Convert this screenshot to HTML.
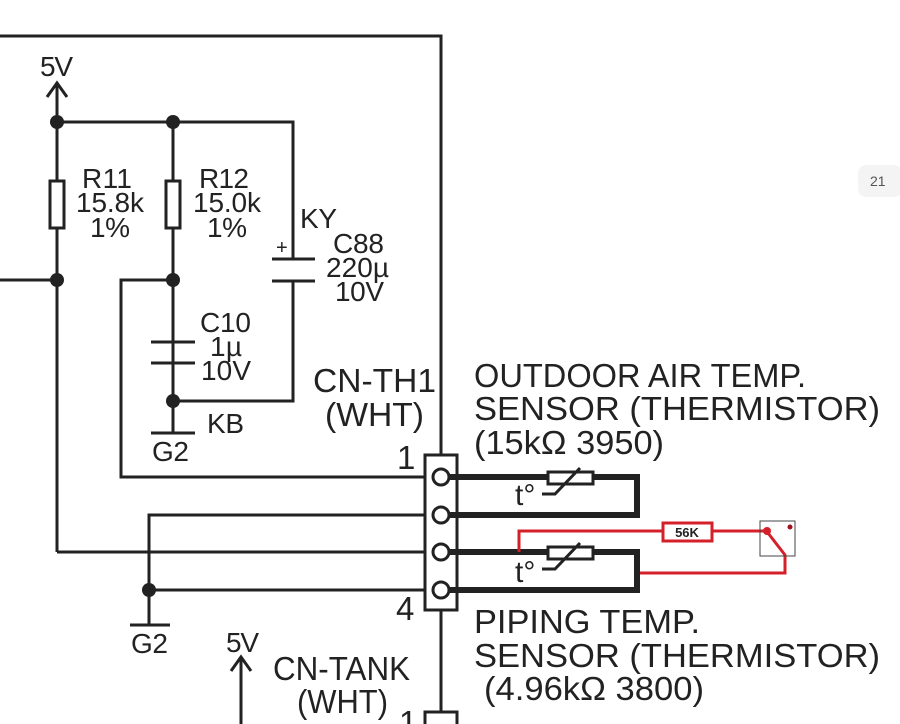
<!DOCTYPE html>
<html><head><meta charset="utf-8"><style>
html,body{margin:0;padding:0;background:#fff;}
svg{display:block;}
text{font-family:"Liberation Sans",sans-serif;fill:#222;}
</style></head><body>
<svg width="900" height="724" viewBox="0 0 900 724" xmlns="http://www.w3.org/2000/svg">
<g stroke="#222" stroke-width="3" fill="none">
<polyline points="0,36 441,36 441,455"/>
<line x1="57" y1="84" x2="57" y2="552"/>
<polyline points="47,97 57,83 67,97"/>
<polyline points="57,122 293,122 293,259"/>
<line x1="173" y1="122" x2="173" y2="401"/>
<line x1="0" y1="280" x2="57" y2="280"/>
<polyline points="173,280 121,280 121,477 433,477"/>
<polyline points="173,401 293,401 293,281"/>
<line x1="173" y1="401" x2="173" y2="433"/>
<line x1="151" y1="433" x2="195" y2="433"/>
<line x1="151" y1="342" x2="195" y2="342"/>
<line x1="151" y1="363" x2="195" y2="363"/>
<line x1="272" y1="259" x2="315" y2="259"/>
<line x1="272" y1="281" x2="315" y2="281"/>
<polyline points="433,515 149,515 149,625"/>
<line x1="130" y1="625" x2="170" y2="625"/>
<line x1="57" y1="552" x2="433" y2="552"/>
<line x1="149" y1="590" x2="433" y2="590"/>
<line x1="441" y1="610" x2="441" y2="712"/>
<line x1="241" y1="657" x2="241" y2="724"/>
<polyline points="231,671 241,657 251,671"/>
</g>
<rect x="50" y="181" width="14" height="47" fill="#fff" stroke="#222" stroke-width="3"/>
<rect x="166" y="181" width="14" height="47" fill="#fff" stroke="#222" stroke-width="3"/>
<g fill="#222">
<circle cx="57" cy="122" r="7"/><circle cx="173" cy="122" r="7"/>
<circle cx="57" cy="280" r="7"/><circle cx="173" cy="280" r="7"/>
<circle cx="173" cy="401" r="7"/><circle cx="149" cy="590" r="7"/>
</g>
<rect x="425" y="455" width="32" height="155" fill="#fff" stroke="#222" stroke-width="3"/>
<rect x="425" y="712" width="32" height="20" fill="#fff" stroke="#222" stroke-width="3"/>
<g stroke="#222" stroke-width="6" fill="none">
<polyline points="448,477 637,477 637,515 448,515"/>
<polyline points="448,552 637,552 637,590 448,590"/>
</g>
<g fill="#fff" stroke="#222" stroke-width="3">
<circle cx="441" cy="477" r="8"/><circle cx="441" cy="515" r="8"/>
<circle cx="441" cy="552" r="8"/><circle cx="441" cy="590" r="8"/>
<rect x="548" y="472" width="45" height="12"/>
<rect x="548" y="547" width="45" height="12"/>
</g>
<g stroke="#222" stroke-width="3" fill="none">
<polyline points="542,494 555,494 580,468"/>
<polyline points="542,569 555,569 580,543"/>
</g>
<g stroke="#d4202a" stroke-width="3" fill="none">
<polyline points="519,552 519,531 662,531"/>
<line x1="712" y1="531" x2="766" y2="531"/>
<polyline points="640,573 785,573 785,555 768,533"/>
<rect x="663" y="523" width="49" height="18" fill="#fff"/>
</g>
<rect x="760" y="521" width="35" height="35" fill="none" stroke="#444" stroke-width="1"/>
<circle cx="767" cy="531" r="4" fill="#d4202a"/>
<circle cx="790" cy="527" r="2.5" fill="#a01020"/>
<text x="687" y="537" font-size="13" font-weight="bold" text-anchor="middle" style="fill:#222">56K</text>
<g font-size="28" lengthAdjust="spacingAndGlyphs">
<text x="40" y="76" textLength="33">5V</text>
<text x="82" y="188" textLength="50">R11</text>
<text x="76" y="212" textLength="68">15.8k</text>
<text x="90" y="237" textLength="40">1%</text>
<text x="199" y="188" textLength="50">R12</text>
<text x="193" y="212" textLength="68">15.0k</text>
<text x="207" y="237" textLength="40">1%</text>
<text x="300" y="228" textLength="37">KY</text>
<text x="276" y="254" font-size="20">+</text>
<text x="333" y="253" textLength="51">C88</text>
<text x="326" y="277" textLength="63">220µ</text>
<text x="335" y="301" textLength="49">10V</text>
<text x="200" y="332" textLength="51">C10</text>
<text x="210" y="356" textLength="32">1µ</text>
<text x="201" y="380" textLength="50">10V</text>
<text x="207" y="433" textLength="37">KB</text>
<text x="152" y="461" textLength="37">G2</text>
<text x="131" y="653" textLength="37">G2</text>
<text x="226" y="652" textLength="33">5V</text>
</g>
<g font-size="33">
<text x="313" y="392" textLength="123" lengthAdjust="spacingAndGlyphs">CN-TH1</text>
<text x="325" y="426" textLength="99" lengthAdjust="spacingAndGlyphs">(WHT)</text>
<text x="397" y="469">1</text>
<text x="396" y="620">4</text>
<text x="273" y="680" textLength="137" lengthAdjust="spacingAndGlyphs">CN-TANK</text>
<text x="297" y="713" textLength="91" lengthAdjust="spacingAndGlyphs">(WHT)</text>
<text x="399" y="734">1</text>
<text x="474" y="387" textLength="332" lengthAdjust="spacingAndGlyphs">OUTDOOR AIR TEMP.</text>
<text x="474" y="420" textLength="406" lengthAdjust="spacingAndGlyphs">SENSOR (THERMISTOR)</text>
<text x="474" y="454" textLength="190" lengthAdjust="spacingAndGlyphs">(15kΩ 3950)</text>
<text x="474" y="633" textLength="226" lengthAdjust="spacingAndGlyphs">PIPING TEMP.</text>
<text x="474" y="667" textLength="406" lengthAdjust="spacingAndGlyphs">SENSOR (THERMISTOR)</text>
<text x="484" y="700" textLength="220" lengthAdjust="spacingAndGlyphs">(4.96kΩ 3800)</text>
</g>
<g font-size="30">
<text x="515" y="505">t°</text>
<text x="515" y="582">t°</text>
</g>
<rect x="858" y="165" width="44" height="32" rx="8" fill="#f4f4f4"/>
<text x="870" y="186" font-size="14" style="fill:#555">21</text>
</svg>
</body></html>
